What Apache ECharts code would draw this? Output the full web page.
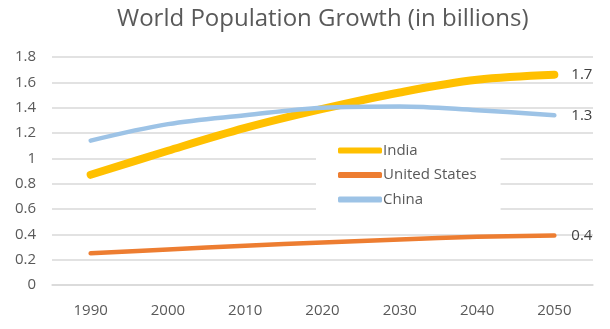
<!DOCTYPE html>
<html>
<head>
<meta charset="utf-8">
<script src="https://cdn.jsdelivr.net/npm/echarts@6/dist/echarts.min.js"></script>
<style>
  html, body { margin: 0; padding: 0; background: #fff; }
  #chart { width: 610px; height: 329px; }
</style>
</head>
<body>
<div id="chart"></div>
<script>
// Population in billions by decade
const years = ['1990', '2000', '2010', '2020', '2030', '2040', '2050'];
const india = [0.87, 1.06, 1.24, 1.39, 1.52, 1.62, 1.66];
const unitedStates = [0.25, 0.28, 0.31, 0.335, 0.36, 0.38, 0.39];
const china = [1.14, 1.27, 1.34, 1.40, 1.41, 1.38, 1.34];

const FONT = '"Open Sans", sans-serif';
const TEXT = '#595959';

function makeSeries(name, data, color, width) {
  return {
    name: name,
    type: 'line',
    data: data,
    smooth: 0.35,
    symbol: 'none',
    lineStyle: { color: color, width: width, cap: 'round', join: 'round' },
    itemStyle: { color: color },
    endLabel: {
      show: true,
      formatter: p => p.value.toFixed(1),
      color: '#404040',
      fontFamily: FONT,
      fontSize: 15,
      distance: 17
    }
  };
}

const chart = echarts.init(document.getElementById('chart'));
chart.setOption({
  backgroundColor: '#fff',
  animation: false,
  title: {
    text: 'World Population Growth (in billions)',
    left: 112,
    top: 2,
    textStyle: { color: TEXT, fontFamily: FONT, fontSize: 24, fontWeight: 'normal' }
  },
  grid: { left: 52, right: 17, top: 57, bottom: 44 },
  legend: {
    orient: 'vertical',
    left: 316,
    top: 139,
    padding: [4, 24, 4, 22],
    itemGap: 9.5,
    itemWidth: 44,
    itemHeight: 6,
    icon: 'roundRect',
    backgroundColor: '#fff',
    textStyle: { color: TEXT, fontFamily: FONT, fontSize: 15, padding: [0, 0, 0, -4] },
    data: ['India', 'United States', 'China']
  },
  xAxis: {
    type: 'category',
    data: years,
    boundaryGap: true,
    axisLine: { lineStyle: { color: '#D9D9D9', width: 1.5 } },
    axisTick: { show: false },
    axisLabel: { color: TEXT, fontFamily: FONT, fontSize: 15, margin: 18 }
  },
  yAxis: {
    type: 'value',
    min: 0,
    max: 1.8,
    interval: 0.2,
    axisLine: { show: false },
    axisTick: { show: false },
    axisLabel: {
      color: TEXT, fontFamily: FONT, fontSize: 15, margin: 16,
      formatter: v => String(parseFloat(v.toFixed(1)))
    },
    splitLine: { lineStyle: { color: '#D9D9D9', width: 1.5 } }
  },
  series: [
    makeSeries('India', india, '#FFC000', 8),
    makeSeries('United States', unitedStates, '#ED7D31', 4.5),
    makeSeries('China', china, '#9DC3E6', 4.5)
  ]
});
</script>
</body>
</html>
